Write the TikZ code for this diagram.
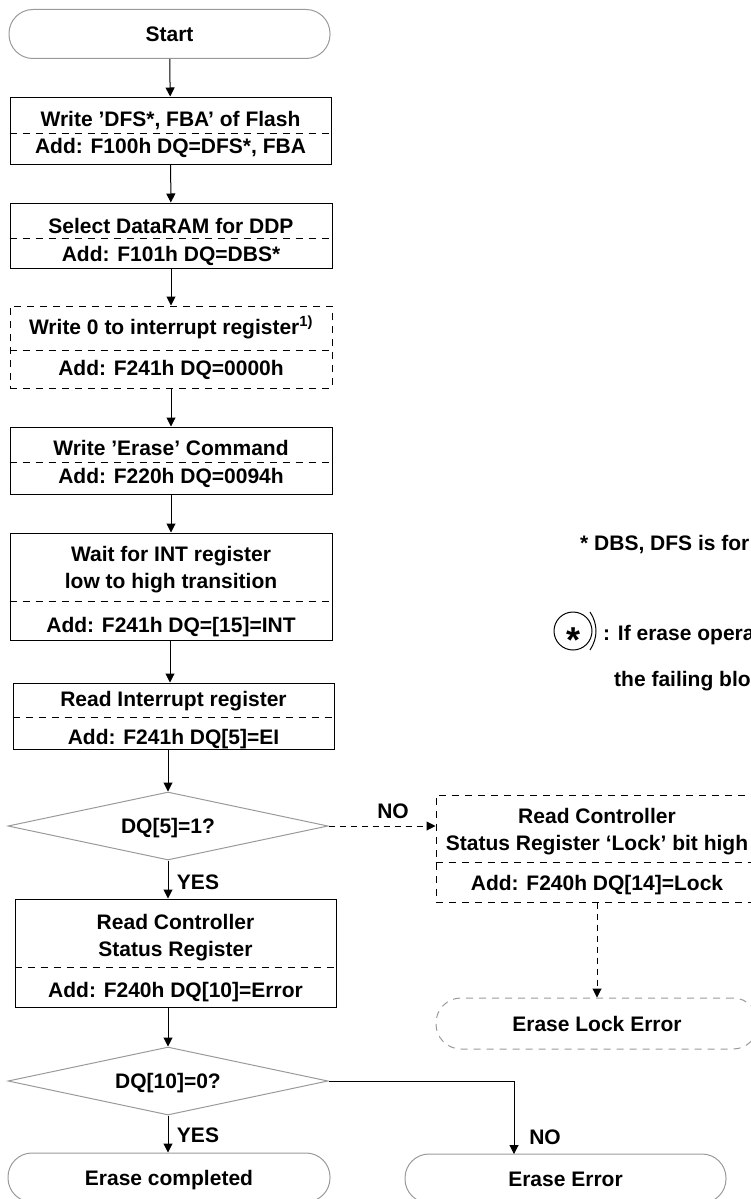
\documentclass[tikz,border=0pt]{standalone}
\usepackage{fontspec}
\setmainfont{Liberation Sans}
\usetikzlibrary{arrows.meta,shapes.geometric,calc}
\definecolor{gr}{HTML}{9A9A9A}
\begin{document}
\begin{tikzpicture}[x=1pt,y=-1pt,
 every node/.style={font=\fontsize{21}{25}\selectfont\bfseries},
 txt/.style={inner sep=0pt, text height=15pt, text depth=0pt},
 box/.style={draw, line width=1pt, inner sep=0pt, minimum width=321pt},
 dbox/.style={box, dash pattern=on 7pt off 6pt},
 term/.style={draw=gr, line width=1pt, inner sep=0pt, minimum width=321pt, minimum height=49pt, rounded corners=24pt, text height=15pt, text depth=0pt},
 dterm/.style={term, dash pattern=on 7pt off 6pt},
 dec/.style={draw=gr, line width=1pt, shape=diamond, aspect=4.7, inner sep=0pt, minimum width=320pt, minimum height=68pt, text height=15pt, text depth=0pt},
 sepl/.style={line width=1pt, dash pattern=on 7pt off 6pt},
 arr/.style={line width=1pt, -{Triangle[length=9pt,width=9pt]}},
 darr/.style={arr, dash pattern=on 6pt off 5pt}]
\path[use as bounding box] (0,0) rectangle (751,1199);
\clip (0,0) rectangle (751,1199);

% start
\node[term] (start) at (169.5,34) {Start};

% box 1
\node[box, minimum height=67pt] (b1) at (170.5,130.5) {};
\draw[sepl] (b1.west |- 0,133) -- (b1.east |- 0,133);
\node[txt] (b1a) at (170.5,119) {Write 'DFS*, FBA' of Flash};
\node[txt] (b1b) at (170.5,146) {Add: F100h DQ=DFS*, FBA};

% box 2
\node[box, minimum width=322pt, minimum height=65pt] (b2) at (171,235.5) {};
\draw[sepl] (b2.west |- 0,238) -- (b2.east |- 0,238);
\node[txt] (b2a) at (171,226) {Select DataRAM for DDP};
\node[txt] (b2b) at (171,254) {Add: F101h DQ=DBS*};

% box 3 (dashed)
\node[dbox, minimum width=322pt, minimum height=82pt] (b3) at (171,347) {};
\draw[sepl] (b3.west |- 0,350) -- (b3.east |- 0,350);
\node[txt] (b3a) at (171,327) {Write 0 to interrupt register\textsuperscript{1)}};
\node[txt] (b3b) at (171,368) {Add: F241h DQ=0000h};

% box 4
\node[box, minimum width=322pt, minimum height=67pt] (b4) at (171,460.5) {};
\draw[sepl] (b4.west |- 0,462) -- (b4.east |- 0,462);
\node[txt] (b4a) at (171,448) {Write 'Erase' Command};
\node[txt] (b4b) at (171,475.5) {Add: F220h DQ=0094h};

% box 5
\node[box, minimum width=322pt, minimum height=107pt] (b5) at (171,586.5) {};
\draw[sepl] (b5.west |- 0,601) -- (b5.east |- 0,601);
\node[txt] (b5a) at (171,554) {Wait for INT register};
\node[txt] (b5b) at (171,581) {low to high transition};
\node[txt] (b5c) at (171,625) {Add: F241h DQ=[15]=INT};

% box 6
\node[box, minimum height=66pt] (b6) at (173.5,716) {};
\draw[sepl] (b6.west |- 0,717) -- (b6.east |- 0,717);
\node[txt] (b6a) at (173.5,699) {Read Interrupt register};
\node[txt] (b6b) at (173.5,737) {Add: F241h DQ[5]=EI};

% decision 1
\node[dec] (d1) at (168,826) {DQ[5]=1?};
\node[txt] (no1) at (393,811) {NO};
\node[txt] (yes1) at (198,882) {YES};

% lock box
\node[dbox, minimum width=322pt, minimum height=107pt] (lock) at (597,848.5) {};
\draw[sepl] (lock.west |- 0,862) -- (lock.east |- 0,862);
\node[txt] (locka) at (597,816) {Read Controller};
\node[txt] (lockb) at (597,842.5) {Status Register `Lock' bit high};
\node[txt] (lockc) at (597,882.5) {Add: F240h DQ[14]=Lock};

% lock error
\node[dterm, minimum width=322pt, minimum height=51pt, rounded corners=25pt] (lerr) at (597,1023.5) {Erase Lock Error};

% box 7
\node[box, minimum height=108pt] (b7) at (175.5,953) {};
\draw[sepl] (b7.west |- 0,967) -- (b7.east |- 0,967);
\node[txt] (b7a) at (175.5,922) {Read Controller};
\node[txt] (b7b) at (175.5,949) {Status Register};
\node[txt] (b7c) at (175.5,990) {Add: F240h DQ[10]=Error};

% decision 2
\node[dec] (d2) at (168,1081) {DQ[10]=0?};
\node[txt] (yes2) at (198,1135) {YES};
\node[txt] (no2) at (545,1137) {NO};

% end terminals
\node[term, minimum width=322pt] (ecomp) at (169,1177.5) {Erase completed};
\node[term] (eerr) at (565.5,1178.5) {Erase Error};
\coordinate (c2) at (514,1154);

% notes
\node[txt, anchor=west] (n1) at (580,543) {* DBS, DFS is for DDP};
\node[draw, circle, line width=1pt, minimum size=38pt, inner sep=0pt] (star) at (573,631) {};
\node[inner sep=0pt, font=\fontsize{36}{36}\selectfont\bfseries] (ast) at (573,640) {*};
\draw[line width=1pt] (590,612) .. controls (598,624) and (598,638) .. (590,650);
\node[txt, anchor=west] (n2) at (603,633) {: If erase operation results in an error, map out};
\node[txt, anchor=west] (n3) at (614,679) {the failing block and replace it with another block.};

% connectors
\draw[arr] (start) -- (b1);
\draw[arr] (b1) -- (b2);
\draw[arr] (b2) -- (b3);
\draw[arr] (b3) -- (b4);
\draw[arr] (b4) -- (b5);
\draw[arr] (b5.south -| b6.north -| 170,0) -- (b6.north -| 170,0);
\draw[arr] (b6.south -| d1.north) -- (d1.north);
\draw[darr] (d1.east) -- (d1.east -| lock.west);
\draw[darr] (lock.south) -- (lerr.north);
\draw[arr] (d1.south) -- (d1.south |- b7.north);
\draw[arr] (b7.south -| d2.north) -- (d2.north);
\draw[arr] (d2.south) -- (d2.south |- ecomp.north);
\draw[arr] (d2.east) -| (c2);
\end{tikzpicture}
\end{document}
